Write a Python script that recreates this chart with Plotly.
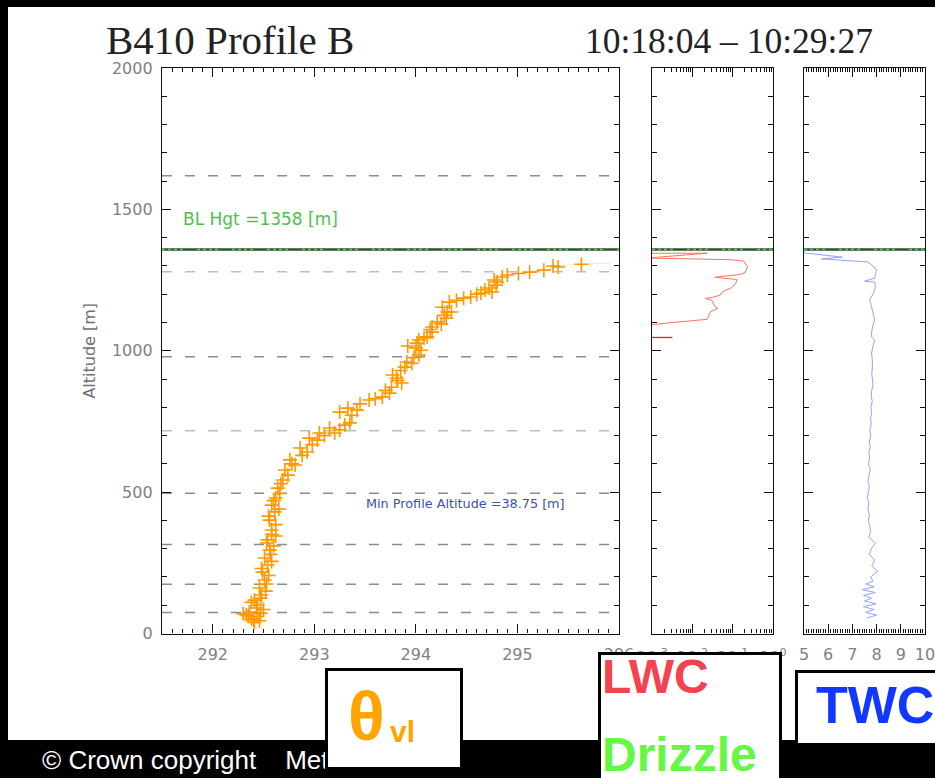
import plotly.graph_objects as go

W, H = 935, 778

# ---- theta_vl profile (K) against altitude (m) ----
theta_vl = [292.41, 292.46, 292.38, 292.44, 292.33, 292.36, 292.50, 292.44, 292.41, 292.48,
            292.52, 292.46, 292.51, 292.55, 292.49, 292.54, 292.58, 292.51, 292.56, 292.60,
            292.54, 292.58, 292.58, 292.62, 292.56, 292.61, 292.58, 292.62, 292.66, 292.64,
            292.69, 292.71, 292.81, 292.76, 292.93, 292.86, 292.95, 293.03, 293.05, 293.20,
            293.15, 293.30, 293.37, 293.25, 293.33, 293.45, 293.54, 293.67, 293.74, 293.76,
            293.86, 293.81, 293.77, 293.89, 293.96, 293.91, 294.03, 294.05, 293.92, 294.01,
            294.03, 294.11, 294.16, 294.16, 294.21, 294.30, 294.35, 294.31, 294.26, 294.33,
            294.47, 294.54, 294.64, 294.75, 294.72, 294.79, 294.80, 294.85, 294.90, 295.12,
            295.26, 295.35, 295.63,
            292.30, 292.35, 292.40, 292.47, 292.43, 292.38, 292.47, 292.53, 292.48, 292.57,
            292.53, 292.62, 292.55, 292.65, 292.60, 292.67, 292.74, 292.78, 292.88, 292.98,
            293.10, 293.25, 293.35, 293.42, 293.60, 293.70, 293.82, 293.85, 293.98, 294.00,
            294.08, 294.14, 294.25, 294.28, 294.40, 294.60, 294.68, 294.77, 295.01, 295.40]
theta_alt = [38.75, 45, 52, 60, 66, 76, 85, 101, 118, 136,
             150, 161, 189, 205, 217, 242, 255, 267, 295, 310,
             331, 350, 366, 385, 401, 430, 454, 479, 495, 514,
             543, 578, 596, 614, 642, 656, 691, 684, 709, 709,
             727, 737, 772, 783, 797, 812, 826, 836, 850, 871,
             886, 903, 914, 942, 956, 960, 985, 1002, 1017, 1027,
             1038, 1049, 1066, 1084, 1102, 1115, 1137, 1137, 1154, 1172,
             1186, 1190, 1204, 1208, 1222, 1232, 1243, 1261, 1268, 1278,
             1285, 1300, 1306,
             70, 62, 48, 72, 90, 110, 125, 175, 230, 280,
             320, 345, 415, 440, 470, 530, 560, 600, 630, 668,
             700, 720, 745, 790, 830, 860, 895, 930, 975, 1010,
             1045, 1075, 1095, 1125, 1178, 1200, 1215, 1250, 1273, 1296]
# continuous trace continues past the last plotted sample
theta_tail = [295.92]
theta_tail_alt = [1310]

# ---- LWC (g m-3) ----
lwc = [0.0008, 0.023, 0.0008, 0.087, 0.186, 0.219, 0.234, 0.204, 0.155, 0.036,
       0.126, 0.120, 0.089, 0.056, 0.049, 0.032, 0.021, 0.030, 0.036, 0.043,
       0.028, 0.025, 0.023, 0.0028, 0.0008]
lwc_alt = [1345, 1345, 1328, 1322, 1317, 1303, 1297, 1277, 1270, 1260,
           1252, 1238, 1221, 1209, 1197, 1189, 1185, 1179, 1158, 1150,
           1138, 1120, 1111, 1099, 1091]
lwc_low = [0.0008, 0.0032]
lwc_low_alt = [1047, 1047]

# ---- TWC ----
twc = [5.0, 6.58, 5.71, 7.63, 7.85, 8.0, 7.95, 7.92, 7.5, 7.92,
       7.95, 7.92, 7.85, 7.71, 7.78, 7.83, 7.88, 7.92, 7.85, 7.80,
       7.79, 7.92, 7.85, 7.79, 7.82, 7.83, 7.80, 7.83, 7.85, 7.80,
       7.78, 7.82, 7.76, 7.80, 7.75, 7.78, 7.72, 7.76, 7.70, 7.74,
       7.68, 7.72, 7.66, 7.74, 7.68, 7.64, 7.70, 7.65, 7.62, 7.68,
       7.64, 7.70, 7.66, 7.72, 7.75, 7.68, 7.95, 7.78, 7.70, 7.92,
       7.80, 8.05, 7.75, 7.85, 7.55, 7.90, 7.40, 7.95, 7.46, 7.80,
       7.50, 7.98, 7.45, 7.90, 7.55, 8.0, 7.60]
twc_alt = [1346, 1331, 1325, 1314, 1300, 1285, 1270, 1257, 1246, 1243,
           1230, 1215, 1200, 1179, 1160, 1144, 1125, 1109, 1090, 1070,
           1049, 1038, 1015, 992, 970, 943, 920, 903, 880, 860,
           840, 820, 800, 780, 760, 740, 720, 700, 680, 660,
           640, 620, 600, 580, 560, 540, 520, 500, 480, 460,
           440, 420, 400, 380, 360, 340, 320, 300, 280, 260,
           240, 220, 200, 185, 175, 165, 155, 145, 135, 125,
           115, 105, 95, 85, 75, 65, 55]

# reference levels
bl_height = 1358
min_profile_alt = 38.75
level_alts = [1619, 1279, 979, 717, 496, 315, 174, 74]
level_colors = ["#8c8c8c", "#bdbdbd", "#8c8c8c", "#bdbdbd", "#8c8c8c", "#8c8c8c", "#8c8c8c", "#8c8c8c"]

theta_ticks = [292, 293, 294, 295, 296]
twc_ticks = [5, 6, 7, 8, 9, 10]
alt_ticks = [0, 500, 1000, 1500, 2000]
lwc_ticks = [0.001, 0.01, 0.1, 1]
lwc_tick_text = ["10<sup>-3</sup>", "10<sup>-2</sup>", "10<sup>-1</sup>", "10<sup>0</sup>"]

title_left = "B410 Profile B"
title_right = "10:18:04 \u2013 10:29:27"


def fx(p):
    return p / W


def fy(p):
    return 1 - p / H


tick_font = dict(family="DejaVu Sans", size=16, color="#808080")

# samples in altitude order for the connecting trace
ordered = sorted(zip(theta_alt, theta_vl))
line_alt = [a for a, _ in ordered] + theta_tail_alt
line_theta = [t for _, t in ordered] + theta_tail

fig = go.Figure()

fig.add_trace(go.Scatter(x=line_theta, y=line_alt, mode="lines",
                         line=dict(color="rgba(255,165,80,0.30)", width=1),
                         xaxis="x", yaxis="y", hoverinfo="skip"))
fig.add_trace(go.Scatter(x=theta_vl, y=theta_alt, mode="markers",
                         marker=dict(symbol="cross-thin", size=10,
                                     line=dict(color="#ff9800", width=1.6)),
                         xaxis="x", yaxis="y"))
fig.add_trace(go.Scatter(x=lwc, y=lwc_alt, mode="lines",
                         line=dict(color="#ff7060", width=1),
                         xaxis="x2", yaxis="y2"))
fig.add_trace(go.Scatter(x=lwc_low, y=lwc_low_alt, mode="lines",
                         line=dict(color="#e02020", width=1.3),
                         xaxis="x2", yaxis="y2"))
fig.add_trace(go.Scatter(x=twc, y=twc_alt, mode="lines",
                         line=dict(color="#93a2ff", width=1),
                         xaxis="x3", yaxis="y3"))

y_dom = [fy(633.5), fy(68)]
axis_common = dict(showline=True, linecolor="#111", linewidth=1.4, mirror="allticks",
                   ticks="inside", tickcolor="#111", showgrid=False, zeroline=False,
                   tickfont=tick_font, automargin=False)

yaxis_common = dict(axis_common, range=[0, 2000], domain=y_dom, tickvals=alt_ticks,
                    ticklen=9, minor=dict(ticks="inside", dtick=100, ticklen=5, tickcolor="#111"))

fig.update_layout(
    width=W, height=H,
    margin=dict(l=0, r=0, t=0, b=0, pad=0, autoexpand=False),
    paper_bgcolor="black", plot_bgcolor="white",
    showlegend=False,
    xaxis=dict(axis_common, domain=[fx(162), fx(619)], range=[291.5, 296], anchor="y",
               tickvals=theta_ticks, ticklen=9, ticklabelstandoff=6, ticklabeloverflow="allow",
               minor=dict(ticks="inside", dtick=0.1, tick0=291.5, ticklen=4, tickcolor="#111")),
    yaxis=dict(yaxis_common, anchor="x", ticklabelstandoff=5,
               title=dict(text="Altitude [m]", font=dict(family="DejaVu Sans", size=16, color="#707070"),
                          standoff=12)),
    xaxis2=dict(axis_common, domain=[fx(652), fx(773)], type="log", range=[-3, 0], anchor="y2",
                tickvals=lwc_ticks, ticktext=lwc_tick_text,
                ticklen=9, ticklabelstandoff=9, ticklabeloverflow="allow",
                minor=dict(ticks="inside", dtick="D1", ticklen=4, tickcolor="#111")),
    yaxis2=dict(yaxis_common, anchor="x2", showticklabels=False),
    xaxis3=dict(axis_common, domain=[fx(804), fx(925)], range=[5, 10], anchor="y3",
                tickvals=twc_ticks, ticklen=9, ticklabelstandoff=6, ticklabeloverflow="allow",
                minor=dict(ticks="inside", dtick=0.1, ticklen=4, tickcolor="#111")),
    yaxis3=dict(yaxis_common, anchor="x3", showticklabels=False),
)

shapes = [dict(type="rect", xref="paper", yref="paper", x0=fx(8), x1=1, y0=fy(740), y1=fy(7),
               fillcolor="white", line=dict(width=0), layer="below")]
for alt, col in zip(level_alts, level_colors):
    shapes.append(dict(type="line", xref="x domain", yref="y", x0=0, x1=1, y0=alt, y1=alt,
                       line=dict(color=col, width=1.5, dash="10px,13px"), layer="below"))
for xr, yr in [("x domain", "y"), ("x2 domain", "y2"), ("x3 domain", "y3")]:
    shapes.append(dict(type="line", xref=xr, yref=yr, x0=0, x1=1, y0=bl_height, y1=bl_height,
                       line=dict(color="#2f4f2f", width=2.5)))
    shapes.append(dict(type="line", xref=xr, yref=yr, x0=0, x1=1, y0=bl_height, y1=bl_height,
                       line=dict(color="#5ccc5c", width=1.5, dash="3px,3px,3px,3px,3px,3px,3px,14px")))
fig.update_layout(shapes=shapes)

ann = []
ann.append(dict(text=title_left, x=fx(104), y=fy(40), xanchor="left", yanchor="middle",
                font=dict(family="Liberation Serif", size=41, color="#222")))
ann.append(dict(text=title_right, x=fx(583), y=fy(41), xanchor="left", yanchor="middle",
                font=dict(family="Liberation Serif", size=35.5, color="#222")))
ann.append(dict(text=f"BL Hgt ={bl_height} [m]", x=fx(181), y=fy(219), xanchor="left", yanchor="middle",
                font=dict(family="DejaVu Sans", size=17, color="#4cbf4c")))
ann.append(dict(text=f"Min Profile Altitude ={min_profile_alt} [m]", x=fx(364), y=fy(504),
                xanchor="left", yanchor="middle",
                font=dict(family="DejaVu Sans", size=12.8, color="#4050b0")))
ann.append(dict(text="\u00a9 Crown copyright    Met Office", x=fx(40), y=fy(760), xanchor="left",
                yanchor="middle", font=dict(family="Liberation Sans", size=26, color="white")))

# label boxes
for x0, y0, x1, y1 in [(325, 668, 463, 770), (598, 652, 782, 810), (795, 670, 945, 746)]:
    ann.append(dict(text=" ", x=fx(x0), y=fy(y0), xanchor="left", yanchor="top",
                    width=x1 - x0 - 6, height=y1 - y0 - 6, borderpad=0, borderwidth=3,
                    bordercolor="black", bgcolor="white", showarrow=False))

ann.append(dict(text="<b>\u03b8</b>", x=fx(366), y=fy(716), xanchor="center", yanchor="middle",
                font=dict(family="Liberation Sans", size=68, color="#ffa500")))
ann.append(dict(text="<b>vl</b>", x=fx(388), y=fy(731), xanchor="left", yanchor="middle",
                font=dict(family="Liberation Sans", size=30, color="#ffa500")))
ann.append(dict(text="<b>LWC</b>", x=fx(600), y=fy(676), xanchor="left", yanchor="middle",
                font=dict(family="Liberation Sans", size=48, color="#f2434f")))
ann.append(dict(text="<b>Drizzle</b>", x=fx(600), y=fy(754), xanchor="left", yanchor="middle",
                font=dict(family="Liberation Sans", size=48, color="#66f744")))
ann.append(dict(text="<b>TWC</b>", x=fx(814), y=fy(705), xanchor="left", yanchor="middle",
                font=dict(family="Liberation Sans", size=52, color="#1038ff")))

for a in ann:
    a.setdefault("xref", "paper")
    a.setdefault("yref", "paper")
    a.setdefault("showarrow", False)
fig.update_layout(annotations=ann)

fig.write_html("out.html")
